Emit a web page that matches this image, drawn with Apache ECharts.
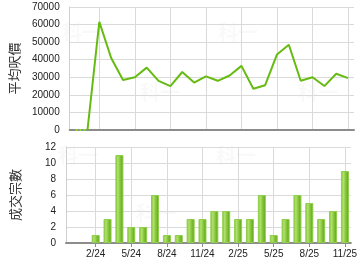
<!DOCTYPE html>
<html><head><meta charset="utf-8">
<script src="https://cdn.jsdelivr.net/npm/echarts@6/dist/echarts.min.js"></script>
<style>html,body{margin:0;padding:0;background:#fff}#c{width:360px;height:270px}</style>
</head><body><div id="c"></div>
<script>
var months = ['12/23','1/24','2/24','3/24','4/24','5/24','6/24','7/24','8/24','9/24','10/24','11/24','12/24','1/25','2/25','3/25','4/25','5/25','6/25','7/25','8/25','9/25','10/25','11/25'];
var avgPrice = [0,0,61500,41000,28500,30000,35500,28000,25000,33000,27000,30500,28000,31000,36500,23500,25500,43000,48500,28000,30000,25000,32000,29500];
var dealCount = [0,0,1,3,11,2,2,6,1,1,3,3,4,4,3,3,6,1,3,6,5,3,4,9];
var priceTicks = [0,10000,20000,30000,40000,50000,60000,70000];
var countTicks = [0,2,4,6,8,10,12];
var noDataUntil = 1; // dotted line for months before data

var solid = avgPrice.map(function(v,i){return i>=noDataUntil? v : null;});
var dotted = avgPrice.map(function(v,i){return i<=noDataUntil? v : null;});
var barData = dealCount.map(function(v){return v===0 ? {value:v, itemStyle:{borderWidth:0, opacity:0}} : v;});

var showIdx = function(i){return (i-2)%3===0;};
var gridColor = '#dadada';
var font = 'Arial, "Liberation Sans", sans-serif';

function xAxis(gridIndex, showLabels){
  return {
    type:'category', gridIndex:gridIndex, data:months, boundaryGap:true,
    axisLine:{show:true, lineStyle:{color:'#8c8c8c', width:2}},
    axisTick:{show:showLabels, alignWithLabel:true, interval:showIdx, length:4, lineStyle:{color:'#8c8c8c'}},
    axisLabel:{show:showLabels, interval:showIdx, color:'#222', fontSize:10, fontFamily:font, margin:6},
    splitLine:{show:true, alignWithLabel:true, interval:showIdx, lineStyle:{color:gridColor}}
  };
}
function yAxis(gridIndex, ticks, name){
  return {
    type:'value', gridIndex:gridIndex, min:ticks[0], max:ticks[ticks.length-1], interval:ticks[1]-ticks[0],
    name:name, nameLocation:'middle', nameRotate:90, nameGap:44,
    nameTextStyle:{color:'#333', fontSize:13, fontFamily:'"Noto Sans CJK TC", sans-serif'},
    axisLine:{show:true, lineStyle:{color:'#cfcfcf'}},
    axisTick:{show:false},
    axisLabel:{color:'#222', fontSize:10, fontFamily:font, margin:10, formatter:function(v){return String(v);}},
    splitLine:{show:true, lineStyle:{color:gridColor}}
  };
}

var wm = [];
[[62,22],[140,82],[218,22],[298,82],[58,145],[136,203],[216,145],[296,203]].forEach(function(p){
  wm.push({type:'text', left:p[0], top:p[1], z:-1, silent:true,
    style:{text:'科一', fill:'rgba(0,0,0,0.025)', font:'bold 20px "Noto Sans CJK TC"'}});
});

var chart = echarts.init(document.getElementById('c'), null, {renderer:'canvas'});
chart.setOption({
  animation:false,
  graphic: wm,
  grid:[
    {left:66, right:6, top:7, height:123},
    {left:66, right:6, top:147, height:96}
  ],
  xAxis:[xAxis(0,false), xAxis(1,true)],
  yAxis:[yAxis(0, priceTicks, '平均呎價'), yAxis(1, countTicks, '成交宗數')],
  series:[
    {type:'line', xAxisIndex:0, yAxisIndex:0, data:dotted, showSymbol:false, symbol:'none',
      lineStyle:{color:'#88dd33', width:2, type:[2,2]}, z:10},
    {type:'line', xAxisIndex:0, yAxisIndex:0, data:solid, showSymbol:false, symbol:'none',
      lineStyle:{color:'#66bb11', width:2}, z:4},
    {type:'bar', xAxisIndex:1, yAxisIndex:1, data:barData, barWidth:8,
      itemStyle:{
        borderColor:'#8fcf4a', borderWidth:1,
        color:new echarts.graphic.LinearGradient(0,0,1,0,[
          {offset:0, color:'#7cc030'},
          {offset:0.3, color:'#b2e070'},
          {offset:0.55, color:'#8ccb40'},
          {offset:1, color:'#5a9e12'}
        ])
      }}
  ]
});
</script></body></html>
